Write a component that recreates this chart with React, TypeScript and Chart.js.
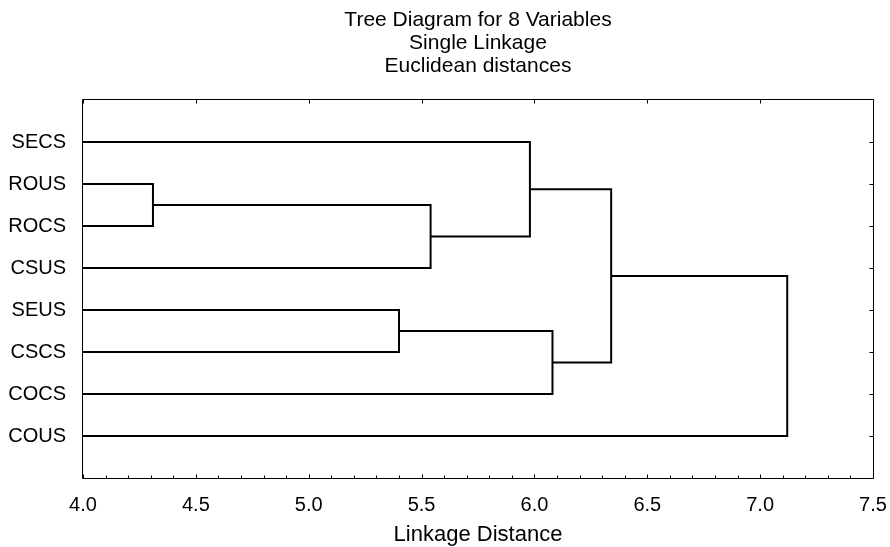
import React, { useEffect, useRef } from 'react';
import { Chart, registerables } from 'chart.js';

Chart.register(...registerables);

const titleLines = ['Tree Diagram for 8 Variables', 'Single Linkage', 'Euclidean distances'];
const xAxisTitle = 'Linkage Distance';
const leafLabels = ['SECS', 'ROUS', 'ROCS', 'CSUS', 'SEUS', 'CSCS', 'COCS', 'COUS'];
// merges: node ids < 8 are leaves, ids >= 8 are clusters created in this order
const mergeLeft = [1, 4, 8, 0, 9, 11, 13];
const mergeRight = [2, 5, 3, 10, 6, 12, 7];
const mergeDistance = [4.31, 5.4, 5.54, 5.98, 6.08, 6.34, 7.12];
const xMin = 4.0;
const xMax = 7.5;
const xMajorStep = 0.5;
const xMinorStep = 0.1;

const FONT = '"Liberation Sans", Arial, Helvetica, sans-serif';

function buildSegments() {
  const nodeX: number[] = leafLabels.map(() => xMin);
  const nodeY: number[] = leafLabels.map((_, i) => i);
  const segs: { x: number; y: number }[][] = [];
  mergeDistance.forEach((h, k) => {
    const a = mergeLeft[k];
    const b = mergeRight[k];
    segs.push([
      { x: nodeX[a], y: nodeY[a] },
      { x: h, y: nodeY[a] },
      { x: h, y: nodeY[b] },
      { x: nodeX[b], y: nodeY[b] },
    ]);
    nodeX.push(h);
    nodeY.push((nodeY[a] + nodeY[b]) / 2);
  });
  return segs;
}

const framePlugin = {
  id: 'framePlugin',
  afterDraw(chart: any) {
    const { ctx, chartArea } = chart;
    const { left, right, top, bottom } = chartArea;
    const xs = chart.scales.x;
    const ys = chart.scales.y;
    ctx.save();
    ctx.strokeStyle = '#000';
    ctx.lineWidth = 1;
    ctx.beginPath();
    const L = Math.round(left) - 0.5;
    const R = Math.round(right) + 0.5;
    const T = Math.round(top) - 0.5;
    const B = Math.round(bottom) + 0.5;
    ctx.rect(L, T, R - L, B - T);
    const nMinor = Math.round((xMax - xMin) / xMinorStep);
    const every = Math.round(xMajorStep / xMinorStep);
    for (let i = 0; i <= nMinor; i++) {
      const v = xMin + i * xMinorStep;
      const px = Math.round(xs.getPixelForValue(v)) + 0.5;
      const isMajor = i % every === 0;
      const len = isMajor ? 4 : 3;
      ctx.moveTo(px, B);
      ctx.lineTo(px, B - len);
      if (isMajor) {
        ctx.moveTo(px, T);
        ctx.lineTo(px, T + len);
      }
    }
    leafLabels.forEach((_, i) => {
      const py = Math.round(ys.getPixelForValue(i)) + 0.5;
      ctx.moveTo(L, py);
      ctx.lineTo(L + 4, py);
      ctx.moveTo(R, py);
      ctx.lineTo(R - 4, py);
    });
    ctx.stroke();

    ctx.fillStyle = '#000';
    ctx.font = `21px ${FONT}`;
    ctx.textAlign = 'center';
    ctx.textBaseline = 'middle';
    const cx = (left + right) / 2;
    titleLines.forEach((t, i) => {
      ctx.fillText(t, cx, 20 + i * 23);
    });
    ctx.restore();
  },
};

export default function App() {
  const ref = useRef<HTMLCanvasElement | null>(null);
  useEffect(() => {
    if (!ref.current) return;
    const segs = buildSegments();
    const chart = new Chart(ref.current, {
      type: 'scatter',
      data: {
        datasets: segs.map((s) => ({
          data: s,
          showLine: true,
          borderColor: '#000',
          backgroundColor: '#000',
          borderWidth: 2,
          pointRadius: 0,
          pointHoverRadius: 0,
          borderJoinStyle: 'miter' as const,
          borderCapStyle: 'butt' as const,
          tension: 0,
          clip: false as any,
        })),
      },
      options: {
        animation: false,
        responsive: false,
        devicePixelRatio: 1,
        events: [],
        layout: { padding: { left: 0, right: 17, top: 100, bottom: 0 } },
        plugins: {
          legend: { display: false },
          tooltip: { enabled: false },
          title: { display: false },
        },
        scales: {
          x: {
            type: 'linear',
            min: xMin,
            max: xMax,
            grid: { display: false, drawTicks: false },
            border: { display: false },
            ticks: {
              stepSize: xMajorStep,
              autoSkip: false,
              maxRotation: 0,
              padding: 15,
              color: '#000',
              font: { family: FONT, size: 20 },
              callback: (v: any) => Number(v).toFixed(1),
            },
            title: {
              display: true,
              text: xAxisTitle,
              color: '#000',
              font: { family: FONT, size: 22 },
              padding: { top: 0, bottom: -1 },
            },
            afterFit: (scale: any) => {
              scale.height = 69;
              scale.paddingLeft = 0;
              scale.paddingRight = 0;
            },
          },
          y: {
            type: 'linear',
            min: -1,
            max: leafLabels.length,
            reverse: true,
            grid: { display: false, drawTicks: false },
            border: { display: false },
            ticks: {
              stepSize: 1,
              autoSkip: false,
              padding: 17,
              color: '#000',
              font: { family: FONT, size: 20 },
              callback: (v: any) => {
                const n = Number(v);
                return Number.isInteger(n) && n >= 0 && n < leafLabels.length ? leafLabels[n] : '';
              },
            },
            afterFit: (scale: any) => {
              scale.width = 83;
              scale.paddingTop = 0;
              scale.paddingBottom = 0;
            },
          },
        },
      },
      plugins: [framePlugin],
    });
    return () => chart.destroy();
  }, []);

  return (
    <div style={{ position: 'fixed', left: 0, top: 0, width: 890, height: 547, background: '#fff' }}>
      <canvas ref={ref} width={890} height={547} style={{ display: 'block' }} />
    </div>
  );
}
